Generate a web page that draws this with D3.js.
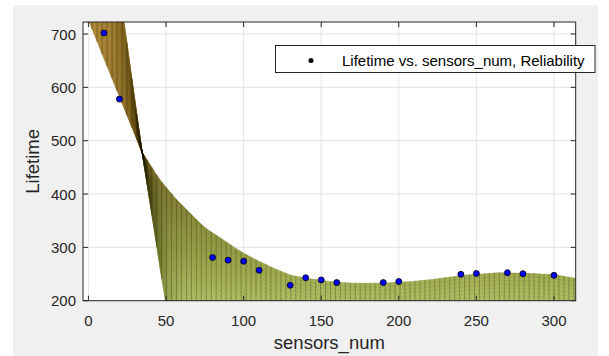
<!DOCTYPE html>
<html>
<head>
<meta charset="utf-8">
<script src="https://cdn.jsdelivr.net/npm/d3@7/dist/d3.min.js"></script>
<style>
  body { margin: 0; background: #fff; }
  svg { display: block; font-family: "Liberation Sans", Arial, sans-serif; }
</style>
</head>
<body>
<svg id="chart" width="609" height="356"></svg>
<script>
// measured points (sensors_num, Lifetime)
var sensorsNum = [10, 20, 80, 90, 100, 110, 130, 140, 150, 160, 190, 200, 240, 250, 270, 280, 300];
var lifetime   = [702, 578, 281, 276, 274, 257, 229, 243, 239, 234, 234, 236, 249.5, 251, 252.5, 250.6, 247.6];

// fitted surface seen edge-on: two boundary curves (Reliability extremes)
var edgeAX = [-4, 0.6, 10, 20, 34.4, 46.2, 56, 65.5, 75, 86.9, 97, 108.4, 120, 130, 140.6, 150, 162, 175, 190, 207, 222, 243.6, 265, 286.5, 301.6, 316];
var edgeAV = [755, 722, 654, 582, 479, 426, 392, 364, 337, 314, 294, 276, 260, 248, 242, 238, 234, 232.5, 233, 235.6, 240, 248, 252.5, 251, 248, 241];
var edgeBX = [-4, 23, 34.4, 49.4, 60, 80, 120, 320];
var edgeBV = [1260, 722, 482, 200, 60, -60, -110, -110];

var xTicks = [0, 50, 100, 150, 200, 250, 300];
var yTicks = [200, 300, 400, 500, 600, 700];

var svg = d3.select("#chart");
var plotL = 83, plotR = 575.7, plotT = 22, plotB = 300.7;

var x = d3.scaleLinear().domain([-3.5, 314]).range([plotL, plotR]);
var y = d3.scaleLinear().domain([200, 722.5]).range([plotB, plotT]);

var edgeA = d3.scaleLinear().domain(edgeAX).range(edgeAV);
var edgeB = d3.scaleLinear().domain(edgeBX).range(edgeBV);

var color = d3.scaleLinear()
  .domain([200, 250, 320, 420, 520, 720])
  .range(["#b0bf60", "#a1ad4d", "#8e963c", "#7c742a", "#9a7626", "#b48a32"])
  .clamp(true);

// figure background
svg.append("rect").attr("x", 13).attr("y", 5).attr("width", 585).attr("height", 351).attr("fill", "#f0f0f0");
svg.append("rect").attr("x", plotL).attr("y", plotT).attr("width", plotR - plotL).attr("height", plotB - plotT).attr("fill", "#fff");

svg.append("clipPath").attr("id", "plotclip")
  .append("rect").attr("x", plotL).attr("y", plotT).attr("width", plotR - plotL).attr("height", plotB - plotT);

// grid
var grid = svg.append("g").attr("stroke", "#e3e3e3").attr("stroke-width", 1);
grid.selectAll(".gx").data(xTicks).enter().append("line")
  .attr("x1", function(d) { return x(d); }).attr("x2", function(d) { return x(d); })
  .attr("y1", plotT).attr("y2", plotB);
grid.selectAll(".gy").data(yTicks).enter().append("line")
  .attr("y1", function(d) { return y(d); }).attr("y2", function(d) { return y(d); })
  .attr("x1", plotL).attr("x2", plotR);

// surface mesh
function surfZ(xx, t) { return edgeA(xx) + (edgeB(xx) - edgeA(xx)) * t; }
var cols = d3.range(-4, 318, 3.2);
var rows = 50;
var cells = [];
for (var i = 0; i < cols.length - 1; i++) {
  for (var j = 0; j < rows; j++) {
    var x0 = cols[i], x1 = cols[i + 1];
    var t0 = j / rows, t1 = (j + 1) / rows;
    var pts = [[x0, surfZ(x0, t0)], [x1, surfZ(x1, t0)], [x1, surfZ(x1, t1)], [x0, surfZ(x0, t1)]];
    var zs = pts.map(function(p) { return p[1]; });
    if (d3.max(zs) < 195 || d3.min(zs) > 730) continue;
    cells.push({ pts: pts, z: d3.mean(zs) });
  }
}

var surf = svg.append("g").attr("clip-path", "url(#plotclip)");
surf.selectAll("path.cell").data(cells).enter().append("path")
  .attr("class", "cell")
  .attr("d", function(d) {
    return "M" + d.pts.map(function(p) { return x(p[0]) + "," + y(p[1]); }).join("L") + "Z";
  })
  .attr("fill", function(d) { return color(d.z); })
  .attr("stroke", function(d) { return color(d.z); })
  .attr("stroke-width", 0.4);

// mesh lines: constant sensors_num columns and constant Reliability rows
var meshLine = d3.line().x(function(p) { return x(p[0]); }).y(function(p) { return y(p[1]); });
surf.selectAll("path.col").data(cols).enter().append("path")
  .attr("class", "col")
  .attr("d", function(c) { return meshLine([[c, surfZ(c, 0)], [c, surfZ(c, 1)]]); })
  .attr("fill", "none")
  .attr("stroke", "#1e1e08")
  .attr("stroke-opacity", 0.5)
  .attr("stroke-width", 0.6);
surf.selectAll("path.row").data(d3.range(rows + 1)).enter().append("path")
  .attr("class", "row")
  .attr("d", function(j) { return meshLine(cols.map(function(c) { return [c, surfZ(c, j / rows)]; })); })
  .attr("fill", "none")
  .attr("stroke", "#1e1e08")
  .attr("stroke-opacity", 0.2)
  .attr("stroke-width", 0.5);

// data points
svg.append("g").selectAll("circle").data(sensorsNum).enter().append("circle")
  .attr("cx", function(d) { return x(d); })
  .attr("cy", function(d, i) { return y(lifetime[i]); })
  .attr("r", 3)
  .attr("fill", "#0000ff")
  .attr("stroke", "#000")
  .attr("stroke-width", 0.8);

// axes box + ticks
var axisColor = "#262626";
svg.append("rect").attr("x", plotL).attr("y", plotT).attr("width", plotR - plotL).attr("height", plotB - plotT)
  .attr("fill", "none").attr("stroke", axisColor).attr("stroke-width", 1);

var ticks = svg.append("g").attr("stroke", axisColor).attr("stroke-width", 1);
xTicks.forEach(function(d) {
  ticks.append("line").attr("x1", x(d)).attr("x2", x(d)).attr("y1", plotB).attr("y2", plotB - 5);
  ticks.append("line").attr("x1", x(d)).attr("x2", x(d)).attr("y1", plotT).attr("y2", plotT + 5);
});
yTicks.forEach(function(d) {
  ticks.append("line").attr("y1", y(d)).attr("y2", y(d)).attr("x1", plotL).attr("x2", plotL + 5);
  ticks.append("line").attr("y1", y(d)).attr("y2", y(d)).attr("x1", plotR).attr("x2", plotR - 5);
});

svg.append("g").selectAll("text").data(xTicks).enter().append("text")
  .attr("x", function(d) { return x(d); })
  .attr("y", 326)
  .attr("text-anchor", "middle")
  .attr("font-size", 15)
  .attr("fill", axisColor)
  .text(function(d) { return d; });

svg.append("g").selectAll("text").data(yTicks).enter().append("text")
  .attr("x", 76)
  .attr("y", function(d) { return y(d) + 5.5; })
  .attr("text-anchor", "end")
  .attr("font-size", 15)
  .attr("fill", axisColor)
  .text(function(d) { return d; });

svg.append("text")
  .attr("x", (plotL + plotR) / 2).attr("y", 349)
  .attr("text-anchor", "middle").attr("font-size", 18.5).attr("fill", axisColor)
  .text("sensors_num");

svg.append("text")
  .attr("transform", "translate(39," + ((plotT + plotB) / 2) + ") rotate(-90)")
  .attr("text-anchor", "middle").attr("font-size", 18.5).attr("fill", axisColor)
  .text("Lifetime");

// legend
var lg = svg.append("g");
lg.append("rect").attr("x", 275.5).attr("y", 45.5).attr("width", 319.5).attr("height", 27)
  .attr("fill", "#fff").attr("stroke", axisColor).attr("stroke-width", 1);
lg.append("circle").attr("cx", 311).attr("cy", 60.5).attr("r", 2.5).attr("fill", "#000");
lg.append("text").attr("x", 342).attr("y", 65.5).attr("font-size", 15).attr("fill", "#000")
  .text("Lifetime vs. sensors_num, Reliability");
</script>
</body>
</html>
